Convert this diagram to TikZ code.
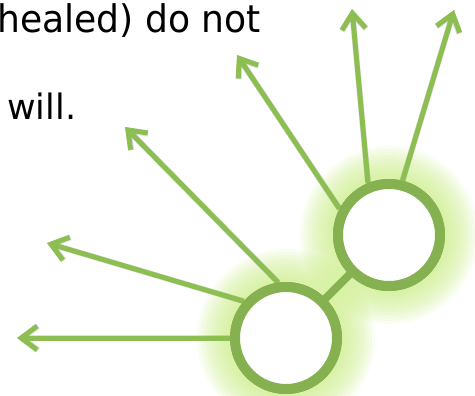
\documentclass[tikz,border=0pt]{standalone}
\usepackage{fontspec}
\setmainfont{DejaVu Sans}
\usetikzlibrary{arrows.meta}
\definecolor{ringcol}{RGB}{134,177,80}
\definecolor{arrcol}{RGB}{141,190,82}
\definecolor{glowcol}{RGB}{200,236,130}
\tikzset{
  ringnode/.style={circle, draw=ringcol, fill=white, line width=10pt, minimum size=102pt, inner sep=0pt},
  ray/.style={draw=arrcol, line width=5pt, -{Straight Barb[length=16pt,width=24pt]}},
  rayshadow/.style={draw=black, draw opacity=0.12, line width=6pt, -{Straight Barb[length=16pt,width=24pt]}},
  link/.style={draw=ringcol, line width=8pt},
  txt/.style={anchor=base west, inner sep=0pt}
}
\begin{document}
\begin{tikzpicture}[x=1pt,y=-1pt]
\useasboundingbox (0,0) rectangle (475,396);
% glow
\foreach \r in {56,59,...,89} {
  \fill[glowcol, fill opacity=0.10] (286,338) circle (\r);
  \fill[glowcol, fill opacity=0.10] (389,235) circle (\r);
}
% text
\node[txt, font=\fontsize{38}{42}\selectfont] (l1) at (-3,33) {\scalebox{0.95}[1]{healed) do not}};
\node[txt, font=\fontsize{35}{40}\selectfont] (l2) at (7,120) {will.};
% circles
\node[ringnode] (A) at (286,338) {};
\node[ringnode] (B) at (389,235) {};
% tips
\coordinate (t1) at (17,338);
\coordinate (t2) at (47,243);
\coordinate (t3) at (125,127);
\coordinate (t4) at (237,55);
\coordinate (t5) at (352,9);
\coordinate (t6) at (454,10);
% shadows
\begin{scope}[shift={(1.5,2)}]
\draw[rayshadow] (A.180) -- (t1);
\draw[rayshadow] (A.139) -- (t2);
\draw[rayshadow] (A.98) -- (t3);
\draw[rayshadow] (B.152) -- (t4);
\draw[rayshadow] (B.112) -- (t5);
\draw[rayshadow] (B.76) -- (t6);
\end{scope}
% rays
\draw[ray] (A.180) -- (t1);
\draw[ray] (A.139) -- (t2);
\draw[ray] (A.98) -- (t3);
\draw[ray] (B.152) -- (t4);
\draw[ray] (B.112) -- (t5);
\draw[ray] (B.76) -- (t6);
% link
\draw[link] (A) -- (B);
% redraw rings on top
\node[ringnode] at (286,338) {};
\node[ringnode] at (389,235) {};
\end{tikzpicture}
\end{document}
